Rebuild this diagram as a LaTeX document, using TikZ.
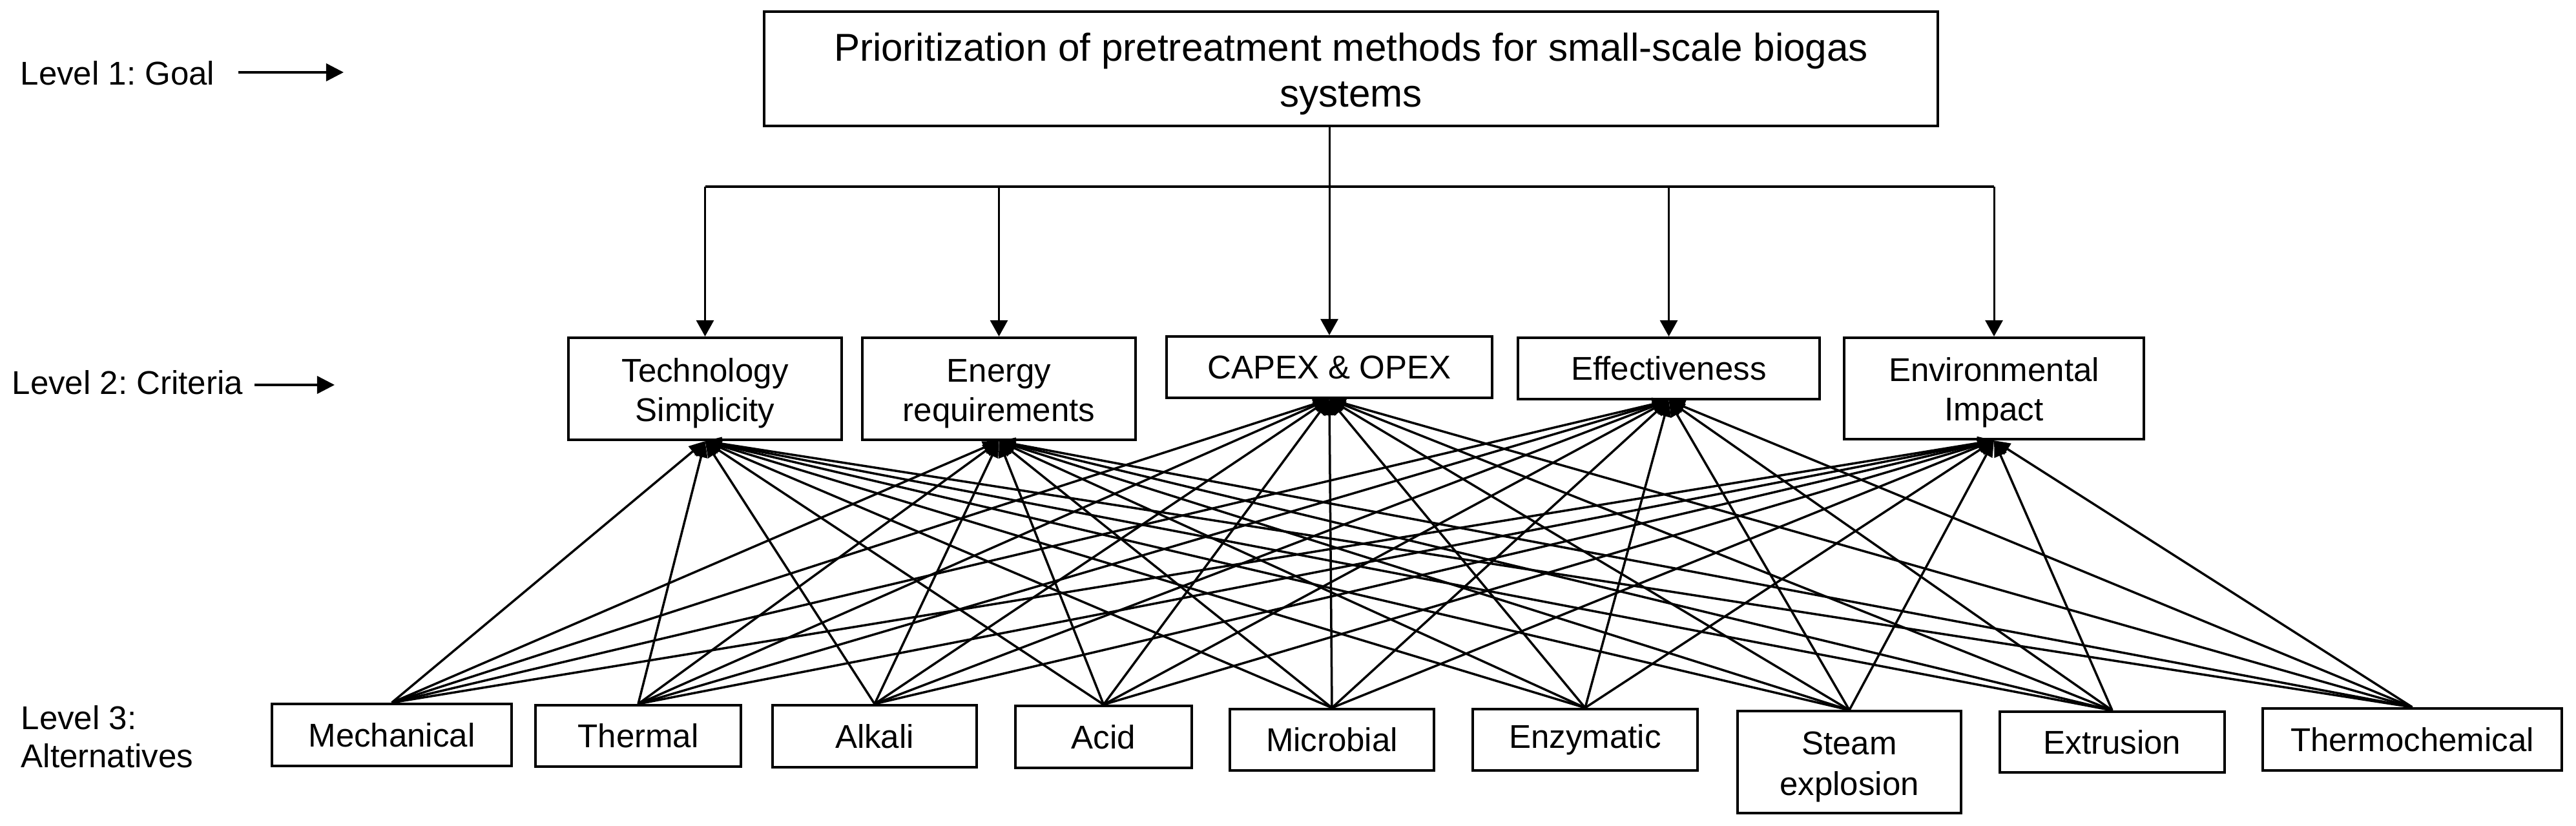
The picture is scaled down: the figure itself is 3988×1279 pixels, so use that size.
\documentclass[tikz,border=0pt]{standalone}
\usepackage{fontspec}
\setmainfont{Liberation Sans}
\usetikzlibrary{arrows.meta}
\frenchspacing
\newcommand{\dropA}{\rule{0pt}{0.5cm}}
\newcommand{\dropB}{\rule{0pt}{0.6cm}}
\begin{document}
\begin{tikzpicture}[x=0.01cm,y=-0.01cm,
  box/.style={draw, line width=0.04cm, inner sep=0pt, align=center,
    font=\fontsize{14.5}{17.4}\selectfont},
  altbox/.style={box, font=\fontsize{14.5}{17.8}\selectfont},
  goalbox/.style={box, font=\fontsize{17.1}{20.2}\selectfont},
  lbl/.style={inner sep=0pt, anchor=base west, font=\fontsize{14.5}{16}\selectfont},
  conn/.style={line width=0.035cm, -{Triangle[length=0.25cm,width=0.2cm]}},
  tree/.style={line width=0.03cm},
  treearr/.style={tree, -{Triangle[length=0.25cm,width=0.27cm]}},
  lvlarr/.style={line width=0.035cm, -{Triangle[length=0.27cm,width=0.27cm]}}]
\useasboundingbox (0,0) rectangle (3988,1279);

% level labels
\node[lbl] (lvl1) at (31,132) {Level 1: Goal};
\node[lbl] (lvl2) at (18,610) {Level 2: Criteria};
\node[lbl] (lvl3a) at (32,1129) {Level 3:};
\node[lbl] (lvl3b) at (32,1188) {Alternatives};
\coordinate (l1s) at (369,112);
\coordinate (l1e) at (532,112);
\coordinate (l2s) at (394,596);
\coordinate (l2e) at (518,596);
\draw[lvlarr] (l1s) -- (l1e);
\draw[lvlarr] (l2s) -- (l2e);

% goal
\node[goalbox, minimum width=18.15cm, minimum height=1.77cm] (goal) at (2091.5,106.5)
  {\dropB Prioritization of pretreatment methods for small-scale biogas\\systems};

% criteria
\node[box, minimum width=4.23cm, minimum height=1.58cm] (ts) at (1091.5,602) {\dropA Technology\\Simplicity};
\node[box, minimum width=4.23cm, minimum height=1.58cm] (er) at (1546.5,602) {\dropA Energy\\requirements};
\node[box, minimum width=5.04cm, minimum height=0.95cm] (capex) at (2058,568.5) {CAPEX \& OPEX};
\node[box, minimum width=4.67cm, minimum height=0.95cm] (eff) at (2583.5,570.5) {Effectiveness};
\node[box, minimum width=4.64cm, minimum height=1.57cm] (ei) at (3087,601.5) {\dropA Environmental\\Impact};

% alternatives
\node[altbox, minimum width=3.71cm, minimum height=0.96cm] (mech) at (606.5,1138) {Mechanical};
\node[altbox, minimum width=3.18cm, minimum height=0.95cm] (therm) at (988,1139.5) {Thermal};
\node[altbox, minimum width=3.16cm, minimum height=0.96cm] (alk) at (1354,1140) {Alkali};
\node[altbox, minimum width=2.73cm, minimum height=0.96cm] (acid) at (1708.5,1141) {Acid};
\node[altbox, minimum width=3.16cm, minimum height=0.95cm] (micro) at (2062,1145.5) {Microbial};
\node[altbox, minimum width=3.48cm, minimum height=0.95cm] (enz) at (2454,1145.5) {Enzymatic};
\node[altbox, minimum width=3.46cm, minimum height=1.57cm] (steam) at (2863,1180) {\dropA Steam\\explosion};
\node[altbox, minimum width=3.48cm, minimum height=0.94cm] (extr) at (3270,1149) {Extrusion};
\node[altbox, minimum width=4.63cm, minimum height=0.96cm] (tchem) at (3734.5,1145) {Thermochemical};

% goal to criteria
\coordinate (bus) at (2058,289);
\draw[tree] (goal.south -| capex.north) -- (bus);
\draw[tree] (ts.north |- bus) -- (ei.north |- bus);
\foreach \c in {ts,er,capex,eff,ei}
  \draw[treearr] (\c.north |- bus) -- (\c.north);

% alternatives to criteria
\foreach \a in {mech,therm,alk,acid,micro,enz,steam,extr,tchem}
  \foreach \c in {ts,er,capex,eff,ei}
    \draw[conn] (\a.north) -- (\c.south);
\end{tikzpicture}
\end{document}
